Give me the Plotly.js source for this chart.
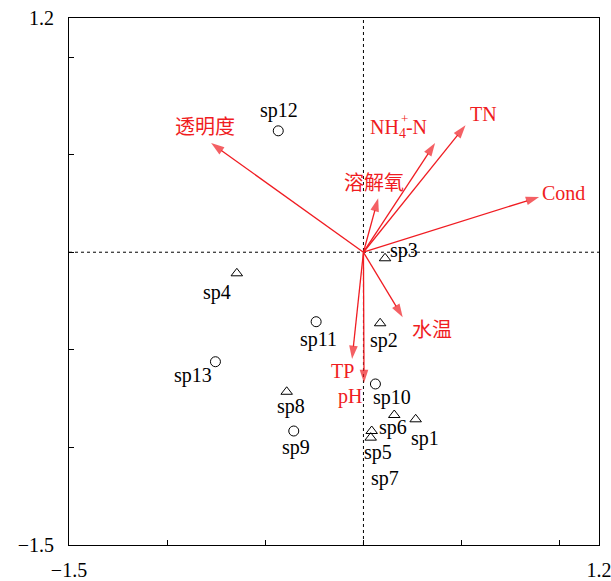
<!DOCTYPE html>
<html>
<head>
<meta charset="utf-8">
<script src="https://cdn.plot.ly/plotly-3.0.1.min.js"></script>
<style>html,body{margin:0;padding:0;background:#fff;}#chart{width:611px;height:581px;}</style>
</head>
<body>
<div id="chart"></div>
<script>
// ---- Data ----
var envNames = ['透明度', 'NH<sub>4</sub>-N', 'TN', '溶解氧', 'Cond', '水温', 'TP', 'pH'];
var envX = [-0.776, 0.365, 0.520, 0.075, 0.895, 0.200, -0.058, 0.003];
var envY = [0.559, 0.559, 0.650, 0.277, 0.283, -0.333, -0.547, -0.670];

var spNames = ['sp1','sp2','sp3','sp4','sp5','sp6','sp7','sp8','sp9','sp10','sp11','sp12','sp13'];
var spX = [0.266, 0.085, 0.110, -0.645, 0.037, 0.157, 0.042, -0.391, -0.355, 0.061, -0.241, -0.434, -0.754];
var spY = [-0.856, -0.364, -0.031, -0.108, -0.950, -0.834, -0.916, -0.715, -0.916, -0.675, -0.356, 0.622, -0.561];
var spGroup = ['A','A','A','A','A','A','A','A','B','B','B','B','B'];

var xTickVals = [-1.5, -1.0, -0.5, 0, 0.5, 1.0, 1.2];
var xTickText = ['\u22121.5', '', '', '', '', '', '1.2'];
var yTickVals = [-1.5, -1.0, -0.5, 0, 0.5, 1.0, 1.2];
var yTickText = ['\u22121.5', '', '', '', '', '', '1.2'];

// ---- Label placement (pixel offsets, styling only) ----
var envLabelShift = [[-6,16],[-37,15],[18,11],[-4,15],[24,4],[29,-13],[-10,-12],[-14,-13]];
var spLabelShift = [[9,-19],[4,-17],[19,8],[-20,-19],[7,-15],[-1,-12],[13,-47],[4,-15],[2,-16],[17,-14],[2,-18],[1,20],[-22,-14]];

var RED = '#f01c22';
var FONT = 'Liberation Serif, Times New Roman, Noto Sans CJK SC, serif';

var traces = [];
for (var i = 0; i < envNames.length; i++) {
  traces.push({
    type: 'scatter', mode: 'lines+markers',
    x: [0, envX[i]], y: [0, envY[i]],
    line: {color: RED, width: 1.3},
    marker: {symbol: 'arrow', size: [0, 14], angleref: 'previous', color: RED, line: {width: 0}},
    hoverinfo: 'skip', showlegend: false, cliponaxis: false
  });
}
function pick(g) {
  var o = {x: [], y: []};
  for (var i = 0; i < spNames.length; i++) if (spGroup[i] === g) { o.x.push(spX[i]); o.y.push(spY[i]); }
  return o;
}
var gA = pick('A'), gB = pick('B');
traces.push({type: 'scatter', mode: 'markers', x: gA.x, y: gA.y,
  marker: {symbol: 'triangle-up-open', size: 10, color: '#000', line: {width: 1}}, showlegend: false});
traces.push({type: 'scatter', mode: 'markers', x: gB.x, y: gB.y,
  marker: {symbol: 'circle-open', size: 10, color: '#000', line: {width: 1}}, showlegend: false});

var annotations = [];
for (var i = 0; i < envNames.length; i++) {
  annotations.push({x: envX[i], y: envY[i], xref: 'x', yref: 'y', text: envNames[i], showarrow: false,
    xanchor: 'center', yanchor: 'middle', xshift: envLabelShift[i][0], yshift: envLabelShift[i][1],
    font: {family: FONT, size: 20, color: RED}});
}
// superscript "+" stacked above the subscript 4 of NH4+-N
annotations.push({x: envX[1], y: envY[1], xref: 'x', yref: 'y', text: '+', showarrow: false,
  xanchor: 'center', yanchor: 'middle', xshift: -31, yshift: 25, font: {family: FONT, size: 13, color: RED}});
for (var i = 0; i < spNames.length; i++) {
  annotations.push({x: spX[i], y: spY[i], xref: 'x', yref: 'y', text: spNames[i], showarrow: false,
    xanchor: 'center', yanchor: 'middle', xshift: spLabelShift[i][0], yshift: spLabelShift[i][1],
    font: {family: FONT, size: 20, color: '#000'}});
}

var axisCommon = {
  range: [-1.5, 1.2], autorange: false, showgrid: false, zeroline: false,
  showline: true, linecolor: '#000', linewidth: 1, mirror: true,
  ticks: 'inside', ticklen: 5, tickcolor: '#000', tickwidth: 1,
  tickmode: 'array', ticklabeloverflow: 'allow',
  tickfont: {family: FONT, size: 20, color: '#000'}
};
var layout = {
  width: 611, height: 581,
  margin: {l: 69, r: 12, t: 18, b: 36},
  paper_bgcolor: '#fff', plot_bgcolor: '#fff',
  xaxis: Object.assign({}, axisCommon, {tickvals: xTickVals, ticktext: xTickText, ticklabelstandoff: 7}),
  yaxis: Object.assign({}, axisCommon, {tickvals: yTickVals, ticktext: yTickText, ticklabelstandoff: 10}),
  shapes: [
    {type: 'line', xref: 'x', yref: 'paper', x0: 0, x1: 0, y0: 0, y1: 1, layer: 'below', line: {color: '#000', width: 1, dash: 'dot'}},
    {type: 'line', xref: 'paper', yref: 'y', x0: 0, x1: 1, y0: 0, y1: 0, layer: 'below', line: {color: '#000', width: 1, dash: 'dot'}}
  ],
  annotations: annotations,
  showlegend: false
};
Plotly.newPlot('chart', traces, layout, {displayModeBar: false, staticPlot: true});
</script>
</body>
</html>
